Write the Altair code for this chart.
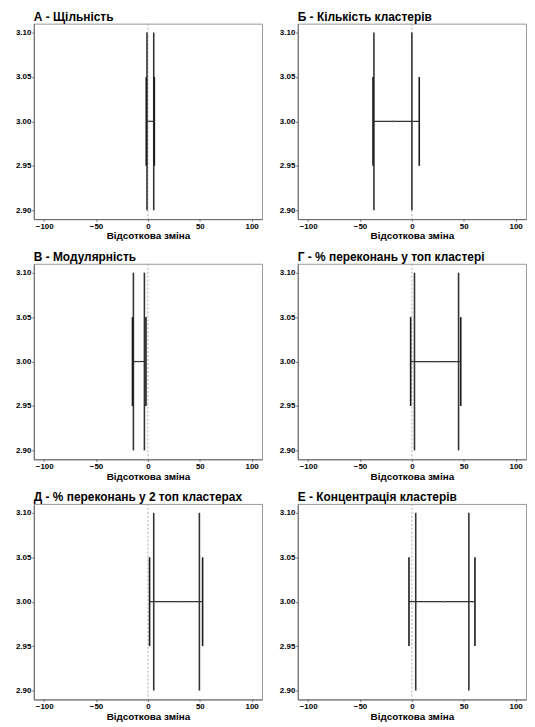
import altair as alt
import pandas as pd

titles = [
    "А - Щільність",
    "Б - Кількість кластерів",
    "В - Модулярність",
    "Г - % переконань у топ кластері",
    "Д - % переконань у 2 топ кластерах",
    "Е - Концентрація кластерів",
]
tall_lo = [-0.9, -36.6, -14.0, 2.5, 5.6, 3.7]
tall_hi = [5.6, 0.0, -3.4, 45.0, 49.6, 54.9]
short_lo = [-1.6, -37.5, -14.9, -1.2, 1.6, -2.8]
short_hi = [6.2, 7.1, -1.9, 47.1, 52.7, 60.8]
mid = [2.5, -18.6, -8.7, 24.5, 29.5, 31.3]
y_center = 3.0
tall_span = [2.90, 3.10]
short_span = [2.95, 3.05]
x_ticks = [-100, -50, 0, 50, 100]
y_ticks = [2.90, 2.95, 3.00, 3.05, 3.10]

FONT = "Liberation Sans"
H = 197
W = 230

xscale = alt.Scale(domain=[-110, 110], nice=False, zero=False)
yscale = alt.Scale(domain=[2.89, 3.11], nice=False, zero=False)
xaxis = alt.Axis(values=x_ticks, title="Відсоткова зміна", grid=False)
yaxis = alt.Axis(values=y_ticks, format=".2f", title=None, grid=False)


def panel(i):
    vert = pd.DataFrame({
        "x": [tall_lo[i], tall_hi[i], short_lo[i], short_hi[i]],
        "y": [tall_span[0], tall_span[0], short_span[0], short_span[0]],
        "y2": [tall_span[1], tall_span[1], short_span[1], short_span[1]],
        "kind": ["tall", "tall", "short", "short"],
    })
    hz = pd.DataFrame({"x": [short_lo[i]], "x2": [short_hi[i]], "y": [y_center],
                       "m": [mid[i]], "zero": [0]})

    zero = alt.Chart(hz).mark_rule(color="#aaaaaa", strokeDash=[2, 2], strokeWidth=1).encode(
        x=alt.X("zero:Q", scale=xscale, axis=xaxis)
    )
    tall = alt.Chart(vert).transform_filter("datum.kind == 'tall'").mark_rule(
        color="#333333", strokeWidth=1.6
    ).encode(
        x=alt.X("x:Q", scale=xscale, axis=xaxis),
        y=alt.Y("y:Q", scale=yscale, axis=yaxis),
        y2="y2:Q",
    )
    short = alt.Chart(vert).transform_filter("datum.kind == 'short'").mark_rule(
        color="#1a1a1a", strokeWidth=1.6
    ).encode(
        x=alt.X("x:Q", scale=xscale, axis=xaxis),
        y=alt.Y("y:Q", scale=yscale, axis=yaxis),
        y2="y2:Q",
    )
    horiz = alt.Chart(hz).mark_rule(color="#333333", strokeWidth=1.2).encode(
        x=alt.X("x:Q", scale=xscale, axis=xaxis),
        x2="x2:Q",
        y=alt.Y("y:Q", scale=yscale, axis=yaxis),
    )
    dot = alt.Chart(hz).mark_point(filled=True, size=3, color="#666666", opacity=1).encode(
        x=alt.X("m:Q", scale=xscale, axis=xaxis),
        y=alt.Y("y:Q", scale=yscale, axis=yaxis),
    )
    return alt.layer(zero, tall, short, horiz, dot).properties(
        width=W, height=H,
        title=alt.TitleParams(titles[i], anchor="start", frame="group", offset=-1,
                              fontSize=12, font=FONT, fontWeight="bold", color="#000000"),
    )


rows = [alt.hconcat(panel(2 * r), panel(2 * r + 1), spacing=9) for r in range(3)]
chart = alt.vconcat(*rows, spacing=9).properties(
    padding={"left": 0, "top": 0, "right": 0, "bottom": 0}
).configure_view(
    stroke="#999999", strokeWidth=1
).configure_axis(
    labelFont=FONT, labelFontSize=8, labelFontWeight="bold", labelColor="#000000",
    titleFont=FONT, titleFontSize=10, titleFontWeight="bold", titleColor="#000000",
    domainColor="#666666", tickColor="#666666", tickSize=2, labelPadding=1,
    titlePadding=1,
).configure_axisY(minExtent=25, maxExtent=25)

chart.save("out.html", embed_options={"renderer": "svg", "actions": False})
